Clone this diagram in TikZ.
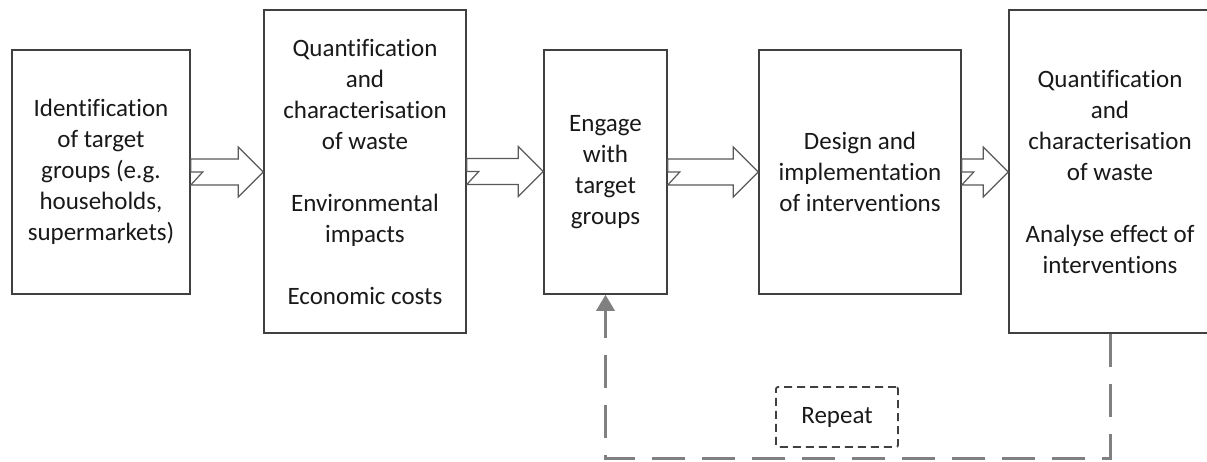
\documentclass[tikz,border=0pt]{standalone}
\usepackage{fontspec}
\setmainfont[Ligatures=NoCommon]{Carlito}
\usetikzlibrary{calc,arrows.meta}
\newcommand{\blockarr}[2]{%
  \coordinate (ta) at (#1.east);
  \coordinate (tb) at (#2.west |- #1.east);
  \draw[barrow] (ta) -- ($(ta)+(0,13)$) -- ($(tb)+(-25,13)$) -- ($(tb)+(-25,25)$) -- (tb)
    -- ($(tb)+(-25,-25)$) -- ($(tb)+(-25,-13)$) -- ($(ta)+(0,-13)$) -- ($(ta)+(12,0)$) -- cycle;}
\begin{document}
\begin{tikzpicture}[x=1pt,y=1pt,
  txt/.style={font=\fontsize{25}{31}\selectfont, text=black!90},
  box/.style={txt, draw=black!75, line width=1.5pt, fill=white, inner sep=0pt, align=center},
  barrow/.style={draw=black!65, line width=1.2pt, fill=white, line join=miter},
  feedback/.style={draw=black!50, line width=3pt, dash pattern=on 33pt off 17pt},
  repeatbox/.style={txt, draw=black!75, line width=1.8pt, dash pattern=on 8pt off 5pt, rounded corners=2pt, inner sep=0pt}
]
\useasboundingbox (0,0) rectangle (1207,-461);
\begin{scope}
\clip (0,0) rectangle (1207,-461);
\node[box, minimum width=178pt, minimum height=244pt] (b1) at (101,-172)
  {Identification\\of target\\groups (e.g.\\households,\\supermarkets)};
\node[box, minimum width=202pt, minimum height=323pt] (b2) at (365,-171.5)
  {Quantification\\and\\characterisation\\of waste\\[31pt]Environmental\\impacts\\[31pt]Economic costs};
\node[box, minimum width=123pt, minimum height=244pt] (b3) at (605.5,-172)
  {Engage\\with\\target\\groups};
\node[box, minimum width=202pt, minimum height=244pt] (b4) at (860,-172)
  {Design and\\implementation\\of interventions};
\node[box, minimum width=202pt, minimum height=323pt] (b5) at (1110,-171.5)
  {Quantification\\and\\characterisation\\of waste\\[31pt]Analyse effect of\\interventions};
\blockarr{b1}{b2}
\blockarr{b2}{b3}
\blockarr{b3}{b4}
\blockarr{b4}{b5}
\node[repeatbox, minimum width=122pt, minimum height=60pt] (rep) at (837,-417) {Repeat};
\draw[feedback, -{Triangle[width=18pt,length=16pt]}] (b5.south) -- ++(0,-125) -| (b3.south);
\end{scope}
\end{tikzpicture}
\end{document}
